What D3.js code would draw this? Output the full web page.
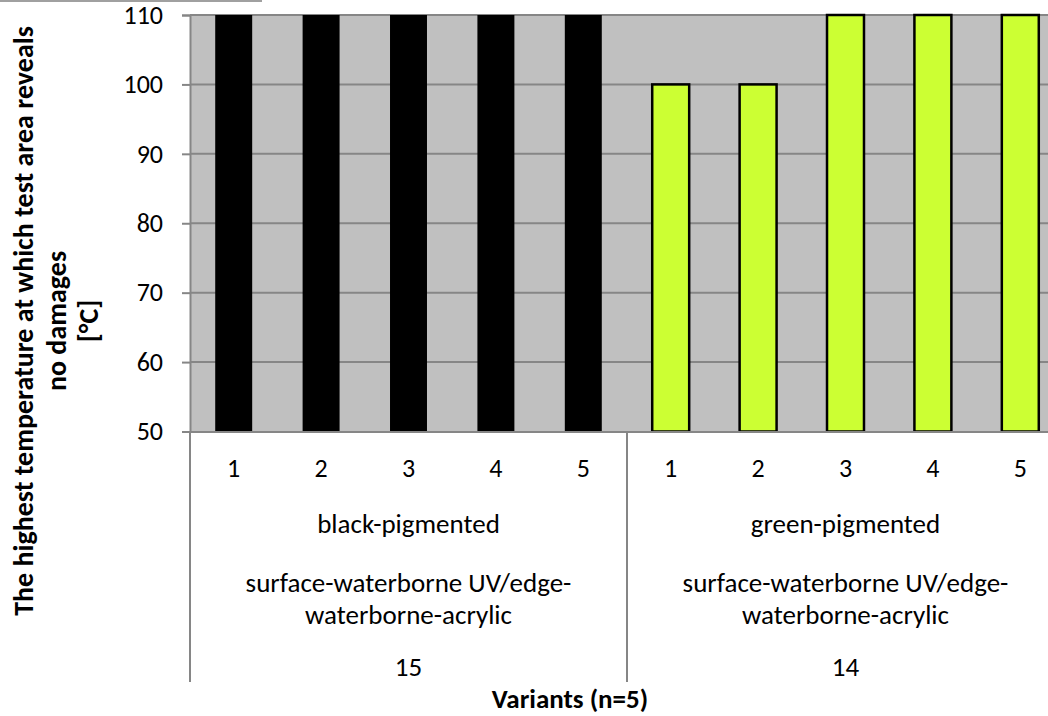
<!DOCTYPE html>
<html><head><meta charset="utf-8">
<script src="https://cdn.jsdelivr.net/npm/d3@7"></script>
<style>
html,body{margin:0;padding:0;background:#fff;}
svg{display:block;}
text{font-family:Carlito,Calibri,Lato,"Open Sans",sans-serif;fill:#000;}
</style></head>
<body>
<svg id="c" width="1048" height="716"></svg>
<script>
const variants = ["1","2","3","4","5","1","2","3","4","5"];
const pigments = ["black-pigmented","green-pigmented"];
const systems = [["surface-waterborne UV/edge-","waterborne-acrylic"],["surface-waterborne UV/edge-","waterborne-acrylic"]];
const groupIds = ["15","14"];
const values = [110,110,110,110,110,100,100,110,110,110];
const barGroup = [0,0,0,0,0,1,1,1,1,1];
const yTicks = [50,60,70,80,90,100,110];
const yTitle = ["The highest temperature at which test area reveals","no damages","[°C]"];
const xTitle = "Variants (n=5)";

const svg = d3.select("#c");
const pL = 190, pR = 1064, pT = 15, pB = 431.5;
const x = d3.scaleBand().domain(d3.range(values.length)).range([pL,pR]).paddingInner(0.577).paddingOuter(0.2885);
const y = d3.scaleLinear().domain([50,110]).range([pB,pT]);
const axisCol = "#868686";
const ff = "Carlito,Calibri,Lato,sans-serif";
const fs = 27;

// top-left border artifact
svg.append("line").attr("x1",0).attr("x2",262).attr("y1",1).attr("y2",1).attr("stroke","#a0a0a0").attr("stroke-width",2);

// plot background
svg.append("rect").attr("x",pL).attr("y",pT).attr("width",pR-pL).attr("height",pB-pT).attr("fill","#c0c0c0");

// gridlines
svg.append("g").selectAll("line").data(yTicks.filter(d=>d>50)).join("line")
  .attr("x1",pL).attr("x2",pR).attr("y1",d=>y(d)).attr("y2",d=>y(d))
  .attr("stroke",axisCol).attr("stroke-width",2);

// bars
svg.append("g").selectAll("rect").data(values).join("rect")
  .attr("x",(d,i)=>x(i)).attr("width",x.bandwidth())
  .attr("y",d=>y(d)).attr("height",d=>pB-y(d))
  .attr("fill",(d,i)=>barGroup[i]===0?"#000":"#ccff33")
  .attr("stroke","#000").attr("stroke-width",(d,i)=>barGroup[i]===0?0:2.5);

// y axis
const yAxis = d3.axisLeft(y).tickValues(yTicks).tickSize(8).tickPadding(19);
const gy = svg.append("g").attr("transform",`translate(${pL},0)`).call(yAxis);
gy.select(".domain").attr("stroke",axisCol).attr("stroke-width",2);
gy.selectAll(".tick line").attr("stroke",axisCol).attr("stroke-width",2);
gy.selectAll(".tick text").attr("font-size",26).attr("fill","#000").style("font-family",ff);

// x axis (level 1)
const xAxis = d3.axisBottom(x).tickFormat(i=>variants[i]).tickSize(0);
const gx = svg.append("g").attr("transform",`translate(0,${pB})`).call(xAxis);
gx.select(".domain").attr("stroke",axisCol).attr("stroke-width",2);
gx.selectAll(".tick text").attr("font-size",26).attr("fill","#000").attr("dy",null).attr("y",45.5).style("font-family",ff);

// group separators
const groupEdges = [0,5,10].map(i => i<values.length ? x(i)-x.step()*x.paddingInner()/2 : pR);
svg.append("g").selectAll("line").data(groupEdges).join("line")
  .attr("x1",d=>d).attr("x2",d=>d).attr("y1",pB).attr("y2",682)
  .attr("stroke",axisCol).attr("stroke-width",2);

// group labels
const gc = d => (groupEdges[d]+groupEdges[d+1])/2;
svg.append("g").selectAll("text").data(pigments).join("text")
  .attr("x",(d,i)=>gc(i)).attr("y",533).attr("text-anchor","middle").attr("font-size",fs).text(d=>d);
systems.forEach((lines,i)=>{
  lines.forEach((t,j)=>{
    svg.append("text").attr("x",gc(i)).attr("y",592+j*32).attr("text-anchor","middle").attr("font-size",fs).text(t);
  });
});
svg.append("g").selectAll("text").data(groupIds).join("text")
  .attr("x",(d,i)=>gc(i)).attr("y",676).attr("text-anchor","middle").attr("font-size",fs).text(d=>d);

// x title
svg.append("text").attr("x",570).attr("y",708).attr("text-anchor","middle").attr("font-size",fs).attr("font-weight","bold").text(xTitle);

// y title
const ty = svg.append("text").attr("transform","translate(0,321) rotate(-90)").attr("text-anchor","middle").attr("font-size",28).attr("font-weight","bold");
yTitle.forEach((t,j)=>{
  ty.append("tspan").attr("x",0).attr("y",33+j*32.5).text(t);
});
</script>
</body></html>
